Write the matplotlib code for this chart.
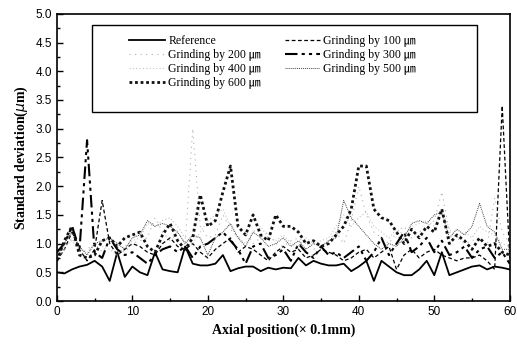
import numpy as np
import matplotlib
matplotlib.use("Agg")
import matplotlib.pyplot as plt
from matplotlib.patches import Rectangle
from matplotlib.ticker import MultipleLocator

# axial position, x 0.1 mm
pos = np.arange(61)

reference = [0.50, 0.48, 0.55, 0.60, 0.63, 0.70, 0.60, 0.35, 0.85, 0.42,
             0.60, 0.50, 0.45, 0.85, 0.55, 0.52, 0.50, 0.95, 0.65, 0.62,
             0.62, 0.65, 0.80, 0.52, 0.57, 0.60, 0.60, 0.52, 0.58, 0.55,
             0.58, 0.57, 0.75, 0.62, 0.70, 0.65, 0.62, 0.62, 0.65, 0.52,
             0.60, 0.70, 0.35, 0.70, 0.60, 0.50, 0.45, 0.45, 0.55, 0.70,
             0.45, 0.85, 0.45, 0.50, 0.55, 0.60, 0.62, 0.55, 0.60, 0.58, 0.55]
g100 = [0.70, 0.90, 1.20, 0.90, 0.70, 0.90, 1.75, 1.00, 0.80, 0.90,
        1.00, 0.95, 0.85, 0.80, 1.00, 1.10, 0.95, 0.90, 1.00, 0.85,
        0.75, 0.90, 1.00, 1.10, 0.85, 0.95, 0.90, 0.80, 0.70, 0.85,
        0.95, 0.85, 0.90, 0.75, 0.80, 0.90, 0.85, 0.80, 0.70, 0.75,
        0.85, 0.90, 0.75, 0.85, 0.95, 0.55, 0.80, 0.90, 0.75, 0.85,
        0.90, 0.80, 0.75, 0.70, 0.75, 0.75, 0.80, 0.70, 0.55, 3.40, 0.75]
g200 = [0.75, 0.90, 1.10, 0.80, 0.90, 1.00, 0.85, 1.05, 0.90, 0.85,
        1.00, 1.05, 1.10, 1.45, 1.20, 1.05, 1.20, 1.00, 3.00, 1.30,
        1.10, 1.15, 1.50, 1.25, 1.10, 1.20, 1.00, 1.10, 1.20, 1.00,
        0.95, 1.05, 1.10, 1.00, 0.90, 0.95, 1.05, 1.20, 1.00, 1.40,
        2.00, 1.50, 1.20, 1.10, 1.00, 1.20, 1.30, 1.10, 1.20, 1.30,
        1.40, 1.90, 1.20, 1.10, 1.00, 1.05, 1.10, 0.95, 1.80, 1.20, 1.00]
g300 = [0.85, 1.00, 1.30, 0.90, 2.80, 0.85, 0.75, 1.10, 0.90, 0.80,
        0.85, 0.75, 0.65, 0.80, 0.90, 0.95, 0.85, 0.95, 0.75, 0.95,
        1.00, 1.10, 1.20, 1.05, 0.90, 0.65, 0.95, 1.00, 0.75, 0.80,
        0.90, 0.70, 1.00, 0.85, 0.75, 0.95, 0.80, 0.85, 0.75, 0.85,
        0.95, 0.70, 0.85, 1.10, 0.80, 1.00, 1.20, 0.85, 0.95, 1.10,
        0.85, 1.05, 0.80, 0.85, 0.95, 0.75, 0.90, 0.95, 0.75, 0.85, 0.65]
g400 = [0.80, 0.95, 1.05, 0.90, 0.85, 1.00, 0.95, 0.90, 0.80, 0.95,
        1.05, 1.10, 1.35, 1.30, 1.40, 1.45, 1.30, 1.10, 1.00, 1.20,
        1.40, 1.50, 1.60, 1.30, 1.10, 1.00, 1.20, 1.30, 1.10, 1.05,
        1.15, 1.00, 0.95, 1.10, 1.00, 1.05, 1.10, 1.30, 1.50, 1.30,
        1.45, 1.55, 1.30, 1.20, 1.10, 1.25, 1.15, 1.30, 1.35, 1.40,
        1.30, 1.60, 1.25, 1.10, 1.20, 1.10, 1.30, 1.20, 1.15, 1.00, 0.95]
g500 = [0.75, 1.00, 1.20, 0.95, 0.80, 1.00, 1.05, 1.10, 1.00, 0.90,
        1.10, 1.15, 1.40, 1.30, 1.35, 1.30, 1.20, 1.00, 1.15, 1.10,
        0.80, 1.10, 1.20, 1.35, 1.10, 0.95, 1.20, 1.10, 0.95, 1.00,
        1.10, 0.95, 1.05, 0.90, 1.00, 0.95, 1.05, 1.10, 1.75, 1.45,
        1.30, 1.15, 1.00, 0.90, 1.00, 0.95, 1.10, 1.35, 1.40, 1.35,
        1.50, 1.55, 1.10, 1.25, 1.15, 1.30, 1.70, 1.30, 1.20, 0.90, 0.90]
g600 = [0.70, 1.05, 1.30, 0.80, 0.75, 0.80, 1.05, 1.10, 0.95, 1.10,
        1.15, 1.20, 0.95, 0.85, 1.15, 1.35, 1.05, 0.90, 1.10, 1.85,
        1.30, 1.40, 1.90, 2.35, 1.30, 1.15, 1.50, 1.15, 1.05, 1.50,
        1.30, 1.30, 1.20, 1.00, 1.05, 0.95, 1.00, 1.15, 1.30, 1.60,
        2.35, 2.35, 1.60, 1.45, 1.40, 1.20, 1.00, 1.25, 1.10, 1.30,
        1.20, 1.60, 1.00, 1.15, 1.05, 0.90, 1.10, 0.95, 1.00, 0.85, 0.80]

um = "\u339b"
serif = ["Liberation Serif", "Noto Sans CJK KR"]

fig = plt.figure(figsize=(5.17, 3.46), dpi=100)
ax = fig.add_axes([0.110, 0.130, 0.876, 0.830])

l_ref, = ax.plot(pos, reference, color="black", lw=1.3, ls="-")
l100, = ax.plot(pos, g100, color="black", lw=0.9, ls=(0, (3, 2)))
l200, = ax.plot(pos, g200, color="#b0b0b0", lw=0.8, ls=(0, (1, 4)))
l300, = ax.plot(pos, g300, color="black", lw=1.5, ls=(0, (6, 2, 1.5, 2, 1.5, 2)))
l400, = ax.plot(pos, g400, color="#c4c4c4", lw=0.8, ls=(0, (1, 2)))
l500, = ax.plot(pos, g500, color="#444444", lw=0.7, ls=(0, (1, 1)))
l600, = ax.plot(pos, g600, color="#111111", lw=2.0, ls=(0, (1, 1)))

# legend box drawn separately (wide padding like the original)
box = Rectangle((0.077, 0.659), 0.850, 0.303, transform=ax.transAxes,
                facecolor="white", edgecolor="black", lw=1.0, zorder=4)
ax.add_patch(box)

handles = [l_ref, l200, l400, l600, l100, l300, l500]
labels = ["Reference",
          f"Grinding by 200 {um}", f"Grinding by 400 {um}", f"Grinding by 600 {um}",
          f"Grinding by 100 {um}", f"Grinding by 300 {um}", f"Grinding by 500 {um}"]
leg = ax.legend(handles, labels, ncol=2, loc="upper left",
                bbox_to_anchor=(0.160, 0.925), frameon=False,
                handlelength=3.0, handletextpad=0.3, borderpad=0,
                borderaxespad=0, columnspacing=2.0, labelspacing=0.15,
                prop={"family": serif, "size": 8.5})
leg.set_zorder(5)

ax.set_xlim(0, 60)
ax.set_ylim(0, 5.0)
ax.xaxis.set_major_locator(MultipleLocator(10))
ax.xaxis.set_minor_locator(MultipleLocator(5))
ax.yaxis.set_major_locator(MultipleLocator(0.5))
ax.yaxis.set_minor_locator(MultipleLocator(0.25))
ax.yaxis.set_major_formatter(plt.FuncFormatter(lambda v, p: f"{v:.1f}"))
ax.tick_params(which="both", direction="in", top=False, right=False,
               labelsize=8.5, width=1.0)
ax.tick_params(which="major", length=4)
ax.tick_params(which="minor", length=2)
for lab in ax.get_xticklabels() + ax.get_yticklabels():
    lab.set_family("Liberation Sans")
for sp in ax.spines.values():
    sp.set_linewidth(1.2)

ax.set_xlabel("Axial position(\u00d7 0.1mm)", fontsize=10, fontweight="bold",
              family=["Liberation Serif"])
ax.set_ylabel("Standard deviation($\\mu$m)", fontsize=10, fontweight="bold",
              family=["Liberation Serif"])

fig.savefig("out.png", dpi=100)
